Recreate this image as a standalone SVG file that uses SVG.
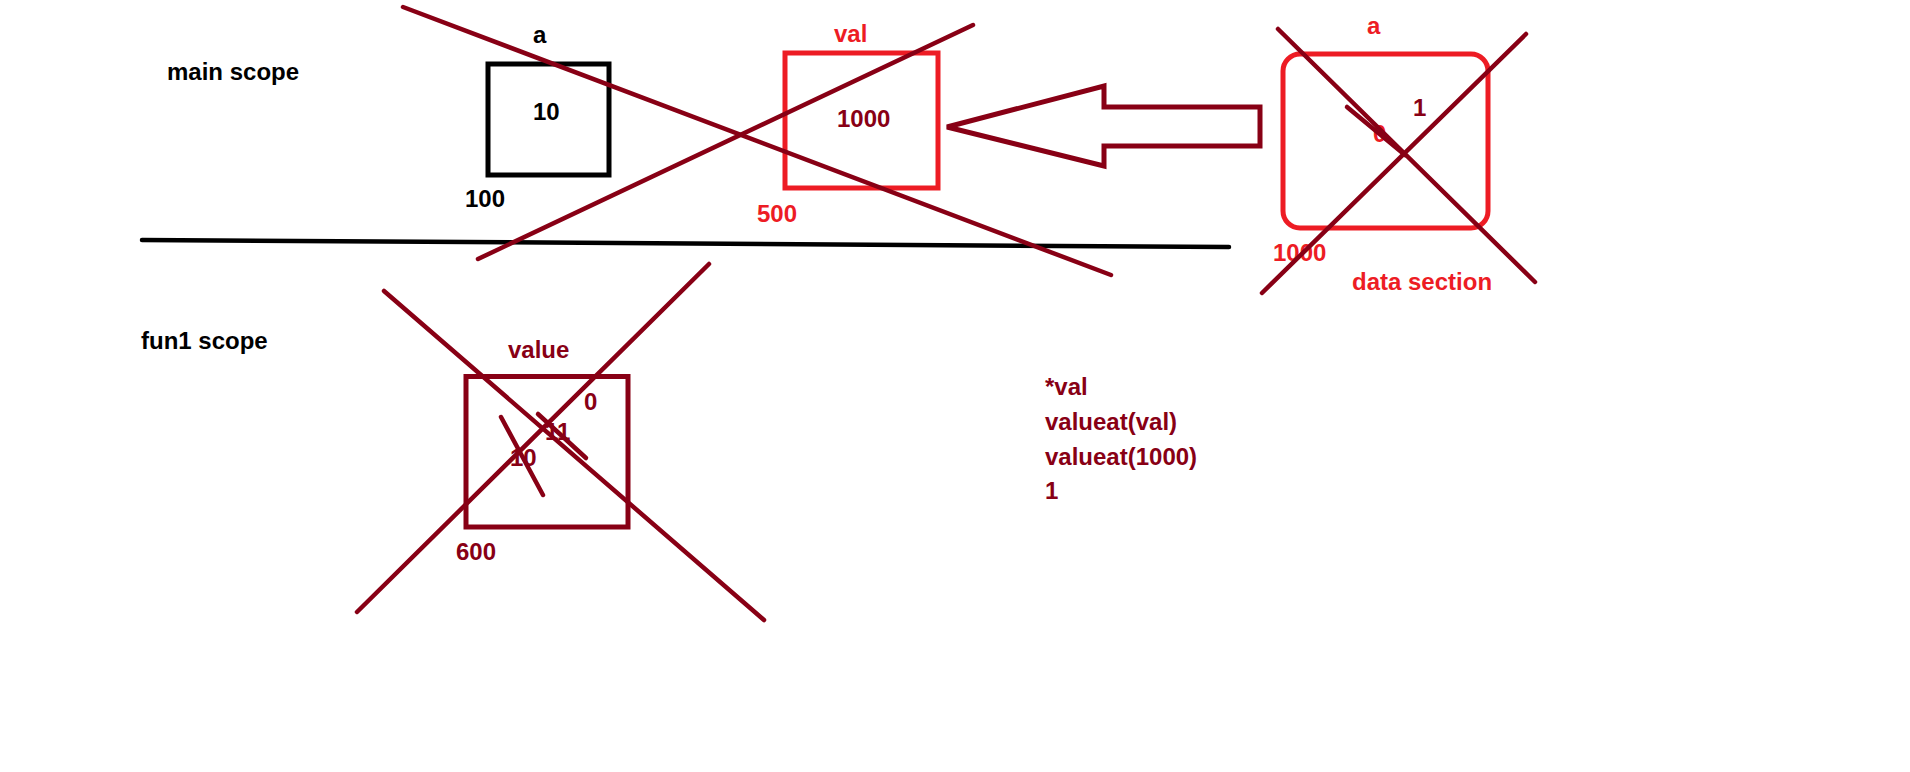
<svg xmlns="http://www.w3.org/2000/svg" width="1910" height="772" viewBox="0 0 1910 772">
  <style>
    text { font-family: "Liberation Sans", Arial, sans-serif; font-weight: bold; font-size: 24px; }
    .blk { fill: #000000; }
    .red { fill: #ED1C24; }
    .dred { fill: #880015; }
    .box { fill: none; stroke-width: 5; }
    .strike { stroke: #880015; stroke-width: 4.5; stroke-linecap: round; fill: none; }
  </style>
  <rect x="0" y="0" width="1910" height="772" fill="#ffffff"/>

  <g id="labels">
    <text class="blk" x="167" y="80">main scope</text>
    <text class="blk" x="141" y="349">fun1 scope</text>
    <line x1="142" y1="240" x2="1229" y2="247" stroke="#000000" stroke-width="4.5" stroke-linecap="round"/>
  </g>

  <g id="node-a">
    <text class="blk" x="533" y="43">a</text>
    <rect class="box" x="488" y="64" width="121" height="111" stroke="#000000"/>
    <text class="blk" x="533" y="120">10</text>
    <text class="blk" x="465" y="207">100</text>
  </g>

  <g id="node-val">
    <text class="red" x="834" y="42">val</text>
    <rect class="box" x="785" y="53" width="153" height="135" stroke="#ED1C24"/>
    <text class="dred" x="837" y="127">1000</text>
    <text class="red" x="757" y="222">500</text>
  </g>

  <g id="node-data">
    <text class="red" x="1367" y="34">a</text>
    <rect class="box" x="1283" y="54" width="205" height="174" rx="17" ry="17" stroke="#ED1C24"/>
    <text class="red" x="1373" y="142">0</text>
    <text class="dred" x="1413" y="116">1</text>
    <text class="red" x="1273" y="261">1000</text>
    <text class="red" x="1352" y="290">data section</text>
  </g>

  <g id="node-value">
    <text class="dred" x="508" y="358">value</text>
    <rect class="box" x="466" y="376.5" width="162" height="150.5" stroke="#880015"/>
    <text class="dred" x="584" y="410">0</text>
    <text class="dred" x="545" y="440">11</text>
    <text class="dred" x="510" y="466">10</text>
    <text class="dred" x="456" y="560">600</text>
  </g>

  <g id="node-notes">
    <text class="dred" x="1045" y="395">*val</text>
    <text class="dred" x="1045" y="430">valueat(val)</text>
    <text class="dred" x="1045" y="465">valueat(1000)</text>
    <text class="dred" x="1045" y="499">1</text>
  </g>

  <g id="connectors">
    <polygon points="947,127 1104,86 1104,107 1260,107 1260,146 1104,146 1104,166" fill="none" stroke="#880015" stroke-width="5" stroke-linejoin="miter"/>
  </g>

  <g id="strikes">
    <line class="strike" x1="403" y1="7" x2="1111" y2="275"/>
    <line class="strike" x1="478" y1="259" x2="973" y2="25"/>
    <line class="strike" x1="1278" y1="29" x2="1535" y2="282"/>
    <line class="strike" x1="1526" y1="34" x2="1262" y2="293"/>
    <line class="strike" x1="1347" y1="107" x2="1405" y2="155"/>
    <line class="strike" x1="384" y1="291" x2="764" y2="620"/>
    <line class="strike" x1="709" y1="264" x2="357" y2="612"/>
    <line class="strike" x1="501" y1="417" x2="543" y2="495"/>
    <line class="strike" x1="538" y1="414" x2="586" y2="458"/>
  </g>
</svg>
